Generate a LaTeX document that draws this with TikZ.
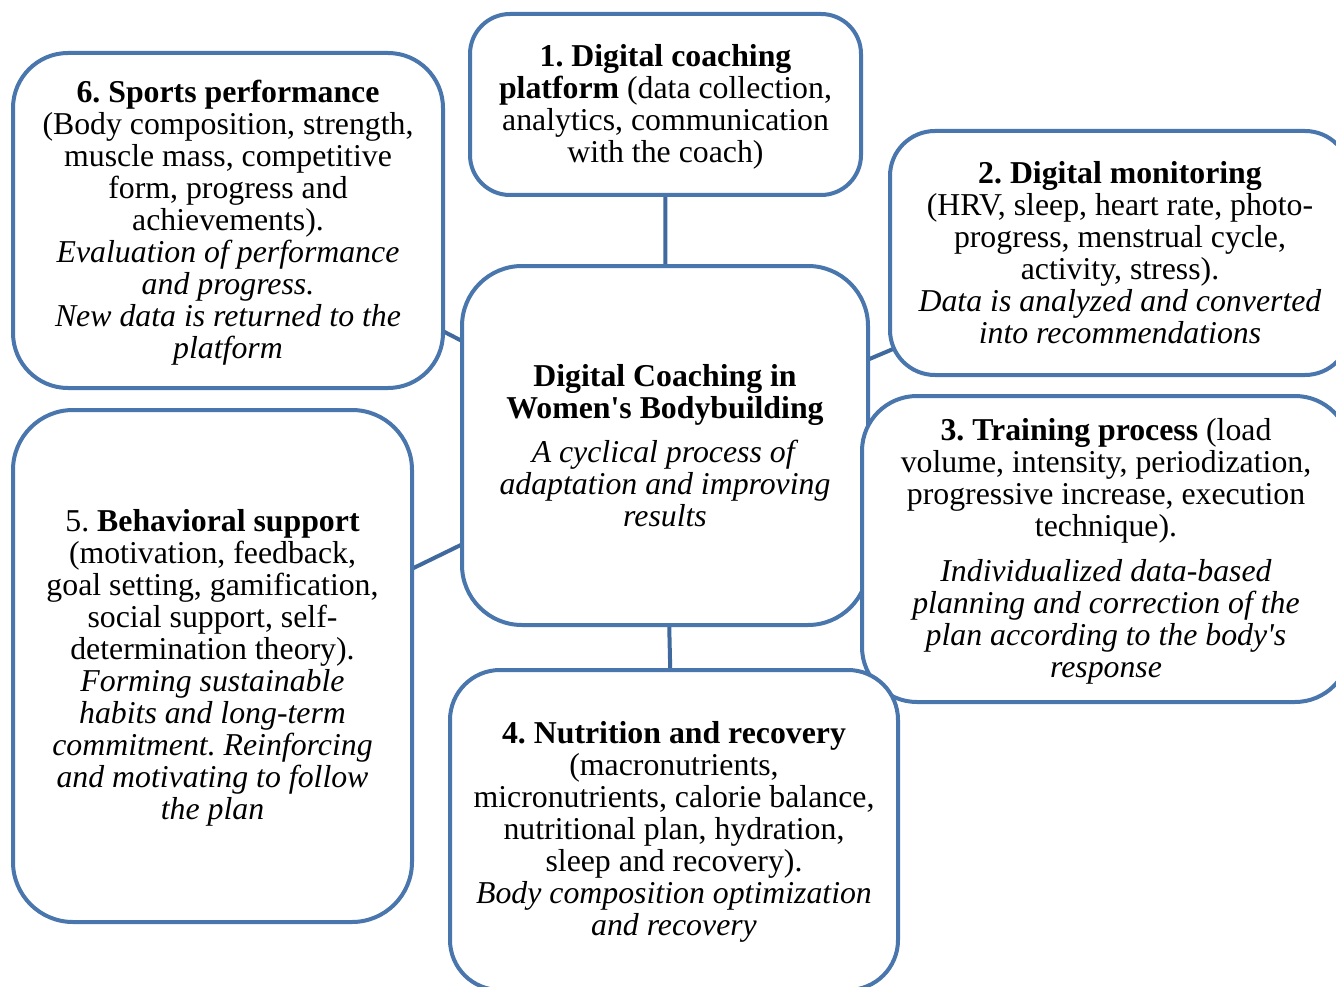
\documentclass[tikz,border=0pt]{standalone}
\usepackage{fontspec}
\setmainfont{Liberation Serif}[Ligatures=TeXOff]
\usetikzlibrary{backgrounds}
\definecolor{boxblue}{RGB}{74,118,174}
\definecolor{linkblue}{RGB}{64,106,158}
% a little extra head room above a first line
\newcommand{\headstrut}{\rule{0pt}{26.5pt}}
\tikzset{
  card/.style={draw=boxblue, line width=4pt, fill=white, rounded corners=#1,
    align=center, inner sep=0pt, font=\fontsize{31.8}{32}\selectfont\frenchspacing},
  link/.style={draw=linkblue, line width=4pt}
}
\begin{document}
\frenchspacing
\begin{tikzpicture}[x=1pt,y=-1pt]
\useasboundingbox (0,0) rectangle (1336,987);
\clip (0,0) rectangle (1336,987);

% central hub
\node[card=60pt, minimum width=406pt, minimum height=359pt] (ctr) at (665,445.5)
  {\textbf{Digital Coaching in}\\
   \textbf{Women's Bodybuilding}\\[12pt]
   \textit{A cyclical process of}\\
   \textit{adaptation and improving}\\
   \textit{results}};

% 1. platform
\node[card=40pt, minimum width=391pt, minimum height=181pt] (b1) at (665.5,104.5)
  {\headstrut\textbf{1. Digital coaching}\\
   \textbf{platform} (data collection,\\
   analytics, communication\\
   with the coach)};

% 2. monitoring
\node[card=45pt, minimum width=460pt, minimum height=244pt] (b2) at (1120,253)
  {\textbf{2. Digital monitoring}\\
   (HRV, sleep, heart rate, photo-\\
   progress, menstrual cycle,\\
   activity, stress).\\
   \textit{Data is analyzed and converted}\\
   \textit{into recommendations}};

% 3. training
\node[card=55pt, minimum width=488pt, minimum height=306pt] (b3) at (1106,549)
  {\headstrut\textbf{3. Training process} (load\\
   volume, intensity, periodization,\\
   progressive increase, execution\\
   technique).\\[13pt]
   \textit{Individualized data-based}\\
   \textit{planning and correction of the}\\
   \textit{plan according to the body's}\\
   \textit{response}};

% 4. nutrition
\node[card=50pt, minimum width=448pt, minimum height=320pt] (b4) at (674,830)
  {\headstrut\textbf{4. Nutrition and recovery}\\
   (macronutrients,\\
   micronutrients, calorie balance,\\
   nutritional plan, hydration,\\
   sleep and recovery).\\
   \textit{Body composition optimization}\\
   \textit{and recovery}};

% 5. behaviour
\node[card=60pt, minimum width=399pt, minimum height=512pt] (b5) at (212.5,666)
  {\headstrut 5. \textbf{Behavioral support}\\
   (motivation, feedback,\\
   goal setting, gamification,\\
   social support, self-\\
   determination theory).\\
   \textit{Forming sustainable}\\
   \textit{habits and long-term}\\
   \textit{commitment. Reinforcing}\\
   \textit{and motivating to follow}\\
   \textit{the plan}};

% 6. performance
\node[card=55pt, minimum width=430pt, minimum height=335pt] (b6) at (228,220.5)
  {\headstrut\textbf{6. Sports performance}\\
   (Body composition, strength,\\
   muscle mass, competitive\\
   form, progress and\\
   achievements).\\
   \textit{Evaluation of performance}\\
   \textit{and progress.}\\
   \textit{New data is returned to the}\\
   \textit{platform}};

% spokes from the hub, behind the cards
\begin{scope}[on background layer]
  \fill[white] (0,0) rectangle (1336,987);
  \foreach \b in {b1,b2,b3,b4,b5,b6}
    \draw[link] (ctr.center) -- (\b.center);
\end{scope}
\end{tikzpicture}
\end{document}
